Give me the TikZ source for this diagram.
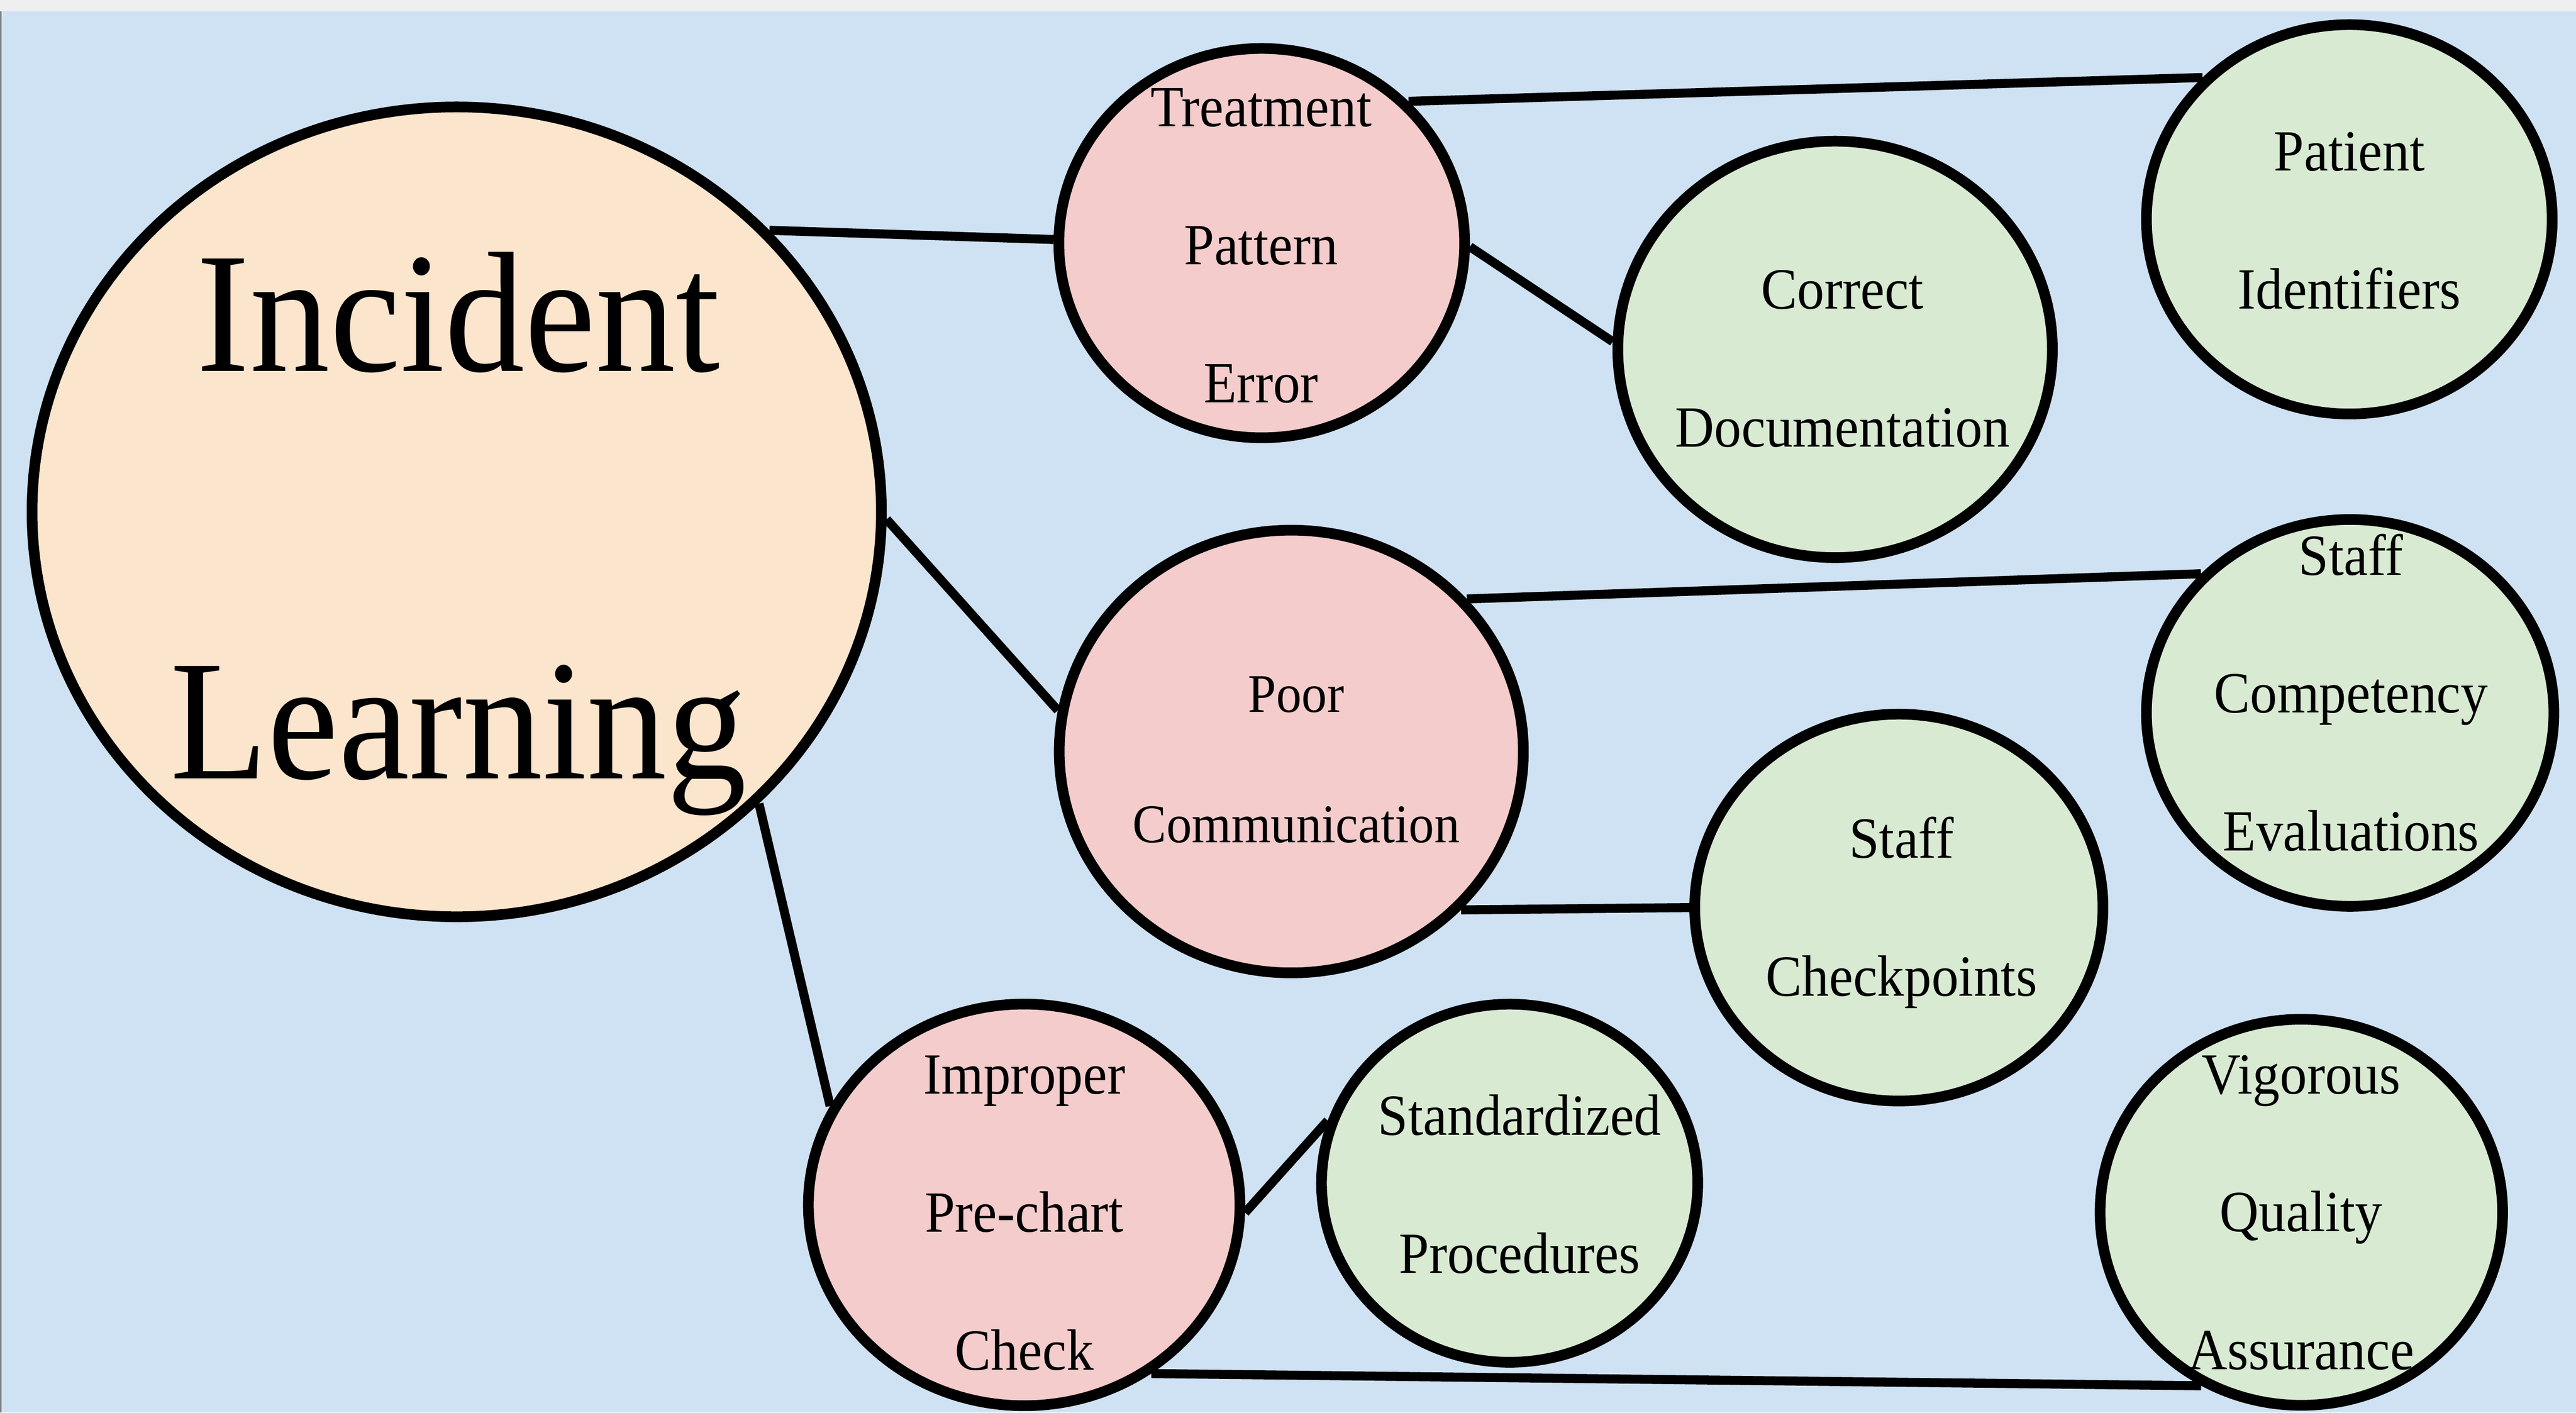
\documentclass[tikz,border=0pt]{standalone}
\usepackage{fontspec}
\setmainfont{Liberation Serif}[FakeStretch=0.93]
\usetikzlibrary{shapes.geometric}
\definecolor{bg}{HTML}{CFE2F3}
\definecolor{strip}{HTML}{EFEFEF}
\definecolor{peach}{HTML}{FCE5CD}
\definecolor{rose}{HTML}{F4CCCC}
\definecolor{sage}{HTML}{D9EAD3}
\tikzstyle{bubble}=[ellipse,draw=black,line width=6.5pt,inner sep=0pt]
\tikzstyle{cause}=[bubble,fill=rose]
\tikzstyle{fix}=[bubble,fill=sage]
\tikzstyle{txt}=[align=center,anchor=base,inner sep=0pt,font=\fontsize{35.5}{84}\selectfont]
\tikzstyle{link}=[line width=5.5pt]

\begin{document}
\begin{tikzpicture}[x=1pt,y=-1pt]
  \useasboundingbox (0,0) rectangle (1568,860);
  \fill[bg] (0,0) rectangle (1568,860);
  \fill[strip] (0,0) rectangle (1568,7);
  \draw[gray,line width=1pt] (0.5,7) -- (0.5,860);
  % bubbles
  \node[bubble,fill=peach,minimum width=517pt,minimum height=493pt] (inc) at (278,311.6) {};
  \node[cause,minimum width=247pt,minimum height=237pt] (treat) at (768,148) {};
  \node[cause,minimum width=282.5pt,minimum height=269.5pt] (poor) at (786,457.5) {};
  \node[cause,minimum width=262.7pt,minimum height=244.5pt] (impr) at (623.4,733.5) {};
  \node[fix,minimum width=264.5pt,minimum height=253.5pt] (corr) at (1117,212.7) {};
  \node[fix,minimum width=247pt,minimum height=237pt] (pat) at (1430,133.5) {};
  \node[fix,minimum width=248pt,minimum height=235.5pt] (comp) at (1430.5,434) {};
  \node[fix,minimum width=248.5pt,minimum height=235.5pt] (chk) at (1155.8,552.5) {};
  \node[fix,minimum width=229pt,minimum height=218pt] (std) at (918.9,720.3) {};
  \node[fix,minimum width=245pt,minimum height=235pt] (vig) at (1400.8,738) {};
  % connectors
  \draw[link] (inc.42.5) -- (treat.179);
  \draw[link] (inc.-1) -- (poor.170);
  \draw[link] (inc.-44.3) -- (impr.153.2);
  \draw[link] (treat.44.6) -- (pat.136.6);
  \draw[link] (treat.-1.8) -- (corr.178.9);
  \draw[link] (poor.41.6) -- (comp.137.2);
  \draw[link] (poor.-43.8) -- (chk.180.4);
  \draw[link] (impr.-2) -- (std.161.6);
  \draw[link] (impr.-53.3) -- (vig.240.5);
  % texts (base = last line)
  \node[txt,font=\fontsize{104.5}{248}\selectfont] (inc-t) at (279,474) {Incident\\Learning};
  \node[txt] (treat-t) at (767.6,245) {Treatment\\Pattern\\Error};
  \node[txt,font=\fontsize{33.2}{79.5}\selectfont] (poor-t) at (789,513) {Poor\\Communication};
  \node[txt] (impr-t) at (623.5,834) {Improper\\Pre-chart\\Check};
  \node[txt] (corr-t) at (1121.5,272) {Correct\\Documentation};
  \node[txt] (pat-t) at (1430,188) {Patient\\Identifiers};
  \node[txt] (comp-t) at (1431,518) {Staff\\Competency\\Evaluations};
  \node[txt] (chk-t) at (1157.4,606.4) {Staff\\Checkpoints};
  \node[txt] (std-t) at (925,775) {Standardized\\Procedures};
  \node[txt] (vig-t) at (1400.7,833.8) {Vigorous\\Quality\\Assurance};
\end{tikzpicture}
\end{document}
